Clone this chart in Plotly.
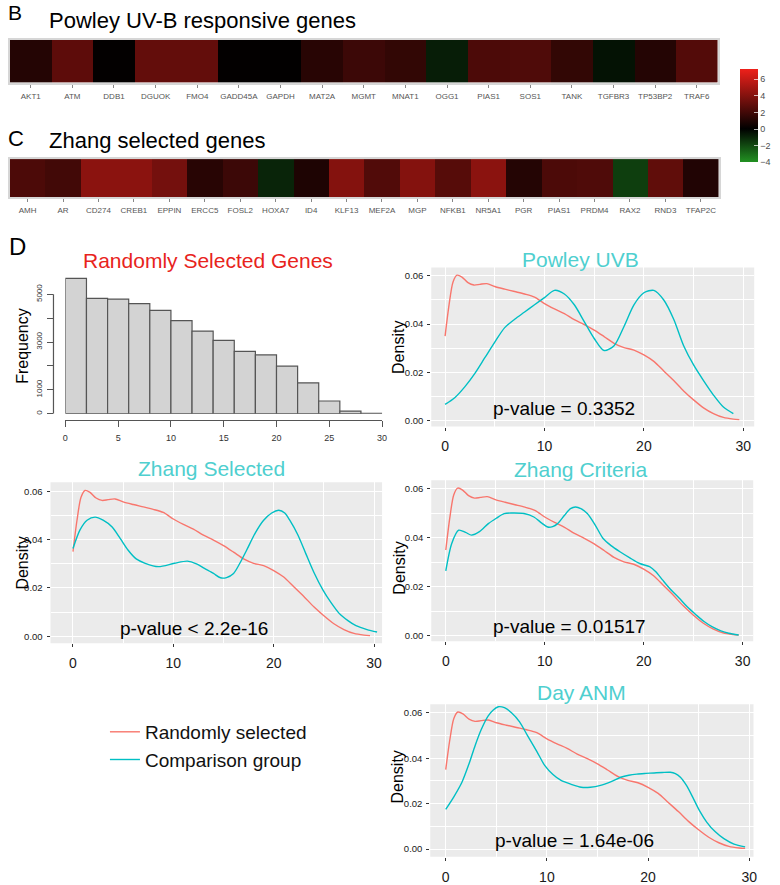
import plotly.graph_objects as go

W, H = 780, 885
def X(p): return p / W
def Y(p): return 1 - p / H

FONT = "Liberation Sans, Arial, Helvetica, sans-serif"
RED = "#F8766D"
TEAL = "#00BFC4"
TITLE_TEAL = "#4FCFCF"

# ---------------- data ----------------
powley_genes = ["AKT1", "ATM", "DDB1", "DGUOK", "FMO4", "GADD45A", "GAPDH", "MAT2A", "MGMT",
                "MNAT1", "OGG1", "PIAS1", "SOS1", "TANK", "TGFBR3", "TP53BP2", "TRAF6"]
powley_values = [1.1, 2.8, 0.1, 3.0, 3.0, 0.1, 0.05, 1.2, 1.8, 1.5, -0.8, 2.3, 2.4, 1.5, -0.5, 1.1, 2.5]

zhang_genes = ["AMH", "AR", "CD274", "CREB1", "EPPIN", "ERCC5", "FOSL2", "HOXA7", "ID4", "KLF13",
               "MEF2A", "MGP", "NFKB1", "NR5A1", "PGR", "PIAS1", "PRDM4", "RAX2", "RND3", "TFAP2C"]
zhang_values = [2.3, 2.0, 4.2, 4.2, 3.5, 1.2, 1.8, -1.0, 0.9, 4.0, 2.45, 4.0, 2.6, 4.2, 1.1, 2.3, 2.4, -1.7, 2.9, 1.0]

colorbar_ticks = [-4, -2, 0, 2, 4, 6]

hist_edges = [0, 2, 4, 6, 8, 10, 12, 14, 16, 18, 20, 22, 24, 26, 28, 30]
hist_counts = [5670, 4830, 4800, 4610, 4330, 3900, 3460, 3070, 2610, 2460, 1990, 1290, 530, 110, 10]
hist_xticks = [0, 5, 10, 15, 20, 25, 30]
hist_yticks = [0, 1000, 2000, 3000, 4000, 5000]
hist_yticklabels = ["0", "1000", "", "3000", "", "5000"]

random_x = [0, 0.4, 0.8, 1.2, 1.7, 2.3, 2.9, 3.5, 4.2, 5, 6, 7, 8, 9, 10, 11, 12, 13, 14, 15,
            16, 17, 18, 19, 20, 21, 22, 23, 24, 25, 26, 27, 28, 29, 29.6]
random_y = [0.035, 0.048, 0.0575, 0.0603, 0.0595, 0.0572, 0.0562, 0.0565, 0.0568, 0.0556, 0.0545,
            0.0535, 0.0525, 0.0512, 0.0485, 0.0463, 0.0443, 0.0418, 0.0398, 0.0375, 0.0348, 0.032,
            0.0302, 0.0292, 0.0272, 0.0245, 0.0205, 0.0165, 0.0122, 0.0085, 0.0052, 0.0028, 0.0012,
            0.0005, 0.0003]

powley_x = [0, 1, 2, 3, 4, 5, 6, 7, 8, 9, 10, 11, 12, 13, 14, 15, 16, 17, 18, 19, 20, 21, 22,
            23, 24, 25, 26, 27, 28, 29]
powley_y = [0.0066, 0.0095, 0.014, 0.0195, 0.026, 0.0325, 0.0385, 0.042, 0.045, 0.048, 0.051,
            0.054, 0.0525, 0.048, 0.041, 0.034, 0.029, 0.031, 0.039, 0.048, 0.053, 0.054, 0.050,
            0.042, 0.031, 0.023, 0.0165, 0.0105, 0.0055, 0.0028]

zsel_x = [0, 0.7, 1.4, 2.2, 3, 3.9, 4.7, 5.5, 6.3, 7.2, 8.5, 10.1, 11.4, 12.3, 13.1, 14, 14.7,
          15.3, 16, 16.6, 17.3, 18.2, 19, 19.8, 20.5, 21.1, 21.6, 22.4, 23.2, 24, 24.9, 25.7,
          26.5, 27.4, 28.2, 29.3, 30.3]
zsel_y = [0.0363, 0.044, 0.048, 0.0493, 0.048, 0.0452, 0.0405, 0.0356, 0.032, 0.0302, 0.0288,
          0.0302, 0.0311, 0.030, 0.0281, 0.026, 0.0242, 0.0243, 0.026, 0.030, 0.0356, 0.043,
          0.048, 0.051, 0.0521, 0.051, 0.048, 0.042, 0.0342, 0.0265, 0.0192, 0.014, 0.0096,
          0.0065, 0.0044, 0.0028, 0.0018]

zcrit_x = [0, 0.6, 1.3, 2, 2.6, 3.4, 4.3, 5.1, 5.9, 6.9, 7.9, 8.9, 9.7, 10.3, 10.8, 11.3, 12,
           12.6, 13.1, 13.7, 14.3, 15.1, 15.9, 16.7, 17.6, 18.6, 19.6, 20.6, 21.2, 21.9, 22.7,
           23.6, 24.4, 25.3, 26.1, 26.9, 27.8, 28.6, 29.6]
zcrit_y = [0.0265, 0.0377, 0.0431, 0.0422, 0.0411, 0.0425, 0.0458, 0.048, 0.0499, 0.0501,
           0.0499, 0.0485, 0.046, 0.0444, 0.0446, 0.0458, 0.0492, 0.0519, 0.0526, 0.0518,
           0.0499, 0.0452, 0.0397, 0.0368, 0.0343, 0.0318, 0.0295, 0.0282, 0.0262, 0.0228,
           0.019, 0.0153, 0.0118, 0.0085, 0.0058, 0.0037, 0.002, 0.001, 0.0003]

day_x = [0, 0.8, 1.6, 2.3, 2.9, 3.5, 4.2, 4.7, 5.2, 5.8, 6.5, 7.3, 8.1, 9, 9.8, 10.6, 11.4,
         12.4, 13.4, 14.3, 15.3, 16.3, 17.3, 18.1, 18.9, 19.8, 20.6, 21.4, 22.2, 22.7, 23.2,
         23.8, 24.5, 25.1, 25.8, 26.6, 27.5, 28.5, 29.6]
day_y = [0.0175, 0.023, 0.0294, 0.0375, 0.0455, 0.0525, 0.0586, 0.0612, 0.0626, 0.0622, 0.06,
         0.056, 0.0498, 0.043, 0.0367, 0.0328, 0.0302, 0.0285, 0.0272, 0.0272, 0.028, 0.0296,
         0.0316, 0.0325, 0.033, 0.0333, 0.0335, 0.0337, 0.0338, 0.0332, 0.0316, 0.028, 0.0221,
         0.0168, 0.0119, 0.0078, 0.0046, 0.0022, 0.001]

density_xticks = [0, 10, 20, 30]
density_xminor = [5, 15, 25]
density_yticks = [0, 0.02, 0.04, 0.06]
density_yminor = [0.01, 0.03, 0.05]

panel_titles = ["Powley UVB", "Zhang Selected", "Zhang Criteria", "Day ANM"]
p_value_texts = ["p-value = 0.3352", "p-value < 2.2e-16", "p-value = 0.01517", "p-value = 1.64e-06"]
legend_names = ["Randomly selected", "Comparison group"]

# ---------------- figure ----------------
fig = go.Figure()
ZMIN, ZMAX = -4, 7.2
zero = (0 - ZMIN) / (ZMAX - ZMIN)
cscale = [[0, "rgb(34,145,34)"], [zero, "rgb(0,0,0)"], [1, "rgb(238,32,26)"]]

fig.add_trace(go.Heatmap(
    z=[powley_values], x=powley_genes, y=[""], xaxis="x", yaxis="y",
    colorscale=cscale, zmin=ZMIN, zmax=ZMAX, showscale=True, hoverinfo="skip",
    colorbar=dict(x=X(745), xanchor="left", y=Y(116.5), yanchor="middle",
                  len=93, lenmode="pixels", thickness=18, thicknessmode="pixels",
                  xpad=0, ypad=0, outlinewidth=0, tickvals=colorbar_ticks,
                  ticks="inside", ticklen=4, tickcolor="rgba(255,255,255,0.7)",
                  tickfont=dict(size=9, color="#4D4D4D", family=FONT)),
))
fig.add_trace(go.Heatmap(
    z=[zhang_values], x=zhang_genes, y=[""], xaxis="x2", yaxis="y2",
    colorscale=cscale, zmin=ZMIN, zmax=ZMAX, showscale=False, hoverinfo="skip",
))

hm_axis = dict(showline=True, mirror=True, linecolor="#D6D6D6", linewidth=2,
               ticks="outside", ticklen=3, tickcolor="#888",
               tickfont=dict(size=8, color="#555", family=FONT), showgrid=False,
               zeroline=False, ticklabelstandoff=2)
hm_yaxis = dict(showline=True, mirror=True, linecolor="#D6D6D6", linewidth=2,
                showticklabels=False, ticks="", showgrid=False, zeroline=False)
fig.update_layout(
    xaxis=dict(domain=[X(7), X(722)], anchor="y", **hm_axis),
    yaxis=dict(domain=[Y(83), Y(40)], anchor="x", **hm_yaxis),
    xaxis2=dict(domain=[X(7), X(723)], anchor="y2", **hm_axis),
    yaxis2=dict(domain=[Y(198), Y(160)], anchor="x2", **hm_yaxis),
)

# histogram
hist_centers = [(a + b) / 2 for a, b in zip(hist_edges[:-1], hist_edges[1:])]
hist_widths = [b - a for a, b in zip(hist_edges[:-1], hist_edges[1:])]
fig.add_trace(go.Bar(x=hist_centers, y=hist_counts, width=hist_widths, xaxis="x3", yaxis="y3",
                     marker=dict(color="#D3D3D3", line=dict(color="#555555", width=1.2)),
                     showlegend=False, hoverinfo="skip"))
fig.update_layout(
    xaxis3=dict(domain=[X(63), X(383)], range=[0, 30], anchor="free", position=Y(422),
                showline=True, linecolor="#555", linewidth=1.2, ticks="outside", ticklen=6,
                tickcolor="#555", tickvals=hist_xticks, showgrid=False, zeroline=False,
                tickfont=dict(size=9, color="#333", family=FONT), ticklabelstandoff=3),
    yaxis3=dict(domain=[Y(416), Y(273)], range=[0, (416 - 273) / 24 * 1000], anchor="free",
                position=X(51), showline=False, ticks="outside", ticklen=6, tickcolor="#555",
                tickvals=hist_yticks, ticktext=hist_yticklabels, tickangle=-90,
                showgrid=False, zeroline=False,
                tickfont=dict(size=8, color="#333", family=FONT), ticklabelstandoff=2),
)

shapes = [dict(type="line", xref="paper", yref="y3", x0=X(51), x1=X(51), y0=hist_yticks[0],
               y1=hist_yticks[-1], line=dict(color="#555", width=1.2))]

# density panels: (xdomain px, ydomain px, xrange, yrange)
panels = [
    ((432.7, 759), (269, 429), (-1.39, 31.1), (-0.0026, 0.0635), powley_x, powley_y),
    ((48, 383), (485, 647), (-2.24, 30.8), (-0.0029, 0.0637), zsel_x, zsel_y),
    ((432.7, 758), (483, 645), (-1.47, 31.07), (-0.0023, 0.0635), zcrit_x, zcrit_y),
    ((431.7, 758.3), (708.3, 861.7), (-1.53, 30.43), (-0.0034, 0.0637), day_x, day_y),
]
for i, (xd, yd, xr, yr, cx, cy) in enumerate(panels):
    n = i + 4
    xa, ya = f"x{n}", f"y{n}"
    fig.add_trace(go.Scatter(x=random_x, y=random_y, xaxis=xa, yaxis=ya, mode="lines",
                             line=dict(color=RED, width=1.4, shape="spline", smoothing=0.8),
                             name=legend_names[0], showlegend=(i == 0), hoverinfo="skip"))
    fig.add_trace(go.Scatter(x=cx, y=cy, xaxis=xa, yaxis=ya, mode="lines",
                             line=dict(color=TEAL, width=1.4, shape="spline", smoothing=0.8),
                             name=legend_names[1], showlegend=(i == 0), hoverinfo="skip"))
    fig.layout[f"xaxis{n}"] = dict(
        domain=[X(xd[0]), X(xd[1])], range=list(xr), anchor=ya, tickvals=density_xticks,
        showgrid=True, gridcolor="white", gridwidth=1.3, zeroline=False, showline=False,
        ticks="outside", ticklen=3, tickcolor="#333",
        minor=dict(tickvals=density_xminor, showgrid=True, gridcolor="white", gridwidth=0.6, ticks=""),
        tickfont=dict(size=14, color="#1a1a1a", family=FONT), ticklabelstandoff=4)
    fig.layout[f"yaxis{n}"] = dict(
        domain=[Y(yd[1]), Y(yd[0])], range=list(yr), anchor=xa, tickvals=density_yticks,
        tickformat=".2f", showgrid=True, gridcolor="white", gridwidth=1.3, zeroline=False,
        showline=False, ticks="outside", ticklen=3, tickcolor="#333",
        minor=dict(tickvals=density_yminor, showgrid=True, gridcolor="white", gridwidth=0.6, ticks=""),
        tickfont=dict(size=9.5, color="#1a1a1a", family=FONT), ticklabelstandoff=2)
    shapes.append(dict(type="rect", xref=f"{xa} domain", yref=f"{ya} domain", x0=0, x1=1,
                       y0=0, y1=1, fillcolor="#EBEBEB", line=dict(width=0), layer="below"))

fig.update_layout(shapes=shapes)

# ---------------- text ----------------
def ann(text, x, y, size, color="black", angle=0, xanchor="center"):
    return dict(text=text, x=X(x), y=Y(y), xref="paper", yref="paper", showarrow=False,
                xanchor=xanchor, yanchor="middle", textangle=angle,
                font=dict(size=size, color=color, family=FONT))

annotations = [
    ann("B", 3, 13, 21, xanchor="left"),
    ann("Powley UV-B responsive genes", 44, 21, 22, xanchor="left"),
    ann("C", 3, 139, 22, xanchor="left"),
    ann("Zhang selected genes", 44, 141, 22, xanchor="left"),
    ann("D", 4, 248, 24, xanchor="left"),
    ann("Randomly Selected Genes", 207, 262, 21, color="#E8231C"),
    ann("Frequency", 19, 348, 16, angle=-90),
]
title_pos = [(583, 261), (211, 471), (583, 472), (584, 696)]
pval_pos = [(567, 411), (193, 632), (572, 630), (577, 845)]
dens_pos = [(399, 349), (20, 566), (401, 571), (399, 781)]
for t, tp, pt, pp, dp in zip(panel_titles, title_pos, p_value_texts, pval_pos, dens_pos):
    annotations.append(ann(t, tp[0], tp[1], 21, color=TITLE_TEAL))
    annotations.append(ann(pt, pp[0], pp[1], 19))
    annotations.append(ann("Density", dp[0], dp[1], 16, angle=-90))

fig.update_layout(
    width=W, height=H, margin=dict(l=0, r=0, t=0, b=0),
    paper_bgcolor="white", plot_bgcolor="rgba(0,0,0,0)",
    annotations=annotations,
    font=dict(family=FONT),
    legend=dict(x=X(103), y=Y(717), xanchor="left", yanchor="top",
                font=dict(size=19, color="#111", family=FONT), bgcolor="rgba(0,0,0,0)"),
)

fig.write_html("out.html", config={"displayModeBar": False},
               post_script="document.body.style.margin='0';")
